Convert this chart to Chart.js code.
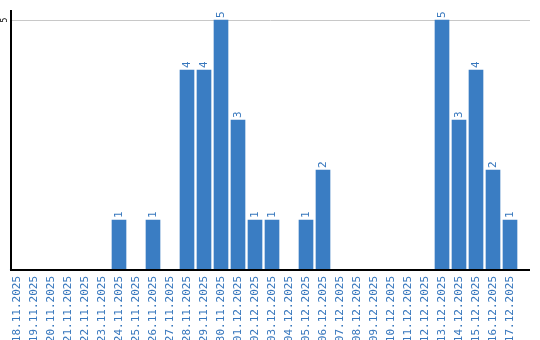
<!DOCTYPE html>
<html><head><meta charset="utf-8">
<script src="https://cdn.jsdelivr.net/npm/chart.js@4"></script>
<style>html,body{margin:0;padding:0;background:#fff}#wrap{width:540px;height:340px}</style>
</head><body><div id="wrap"><canvas id="c" width="540" height="340"></canvas></div>
<script>
const categories = ["18.11.2025","19.11.2025","20.11.2025","21.11.2025","22.11.2025","23.11.2025","24.11.2025","25.11.2025","26.11.2025","27.11.2025","28.11.2025","29.11.2025","30.11.2025","01.12.2025","02.12.2025","03.12.2025","04.12.2025","05.12.2025","06.12.2025","07.12.2025","08.12.2025","09.12.2025","10.12.2025","11.12.2025","12.12.2025","13.12.2025","14.12.2025","15.12.2025","16.12.2025","17.12.2025"];
const values = [0,0,0,0,0,0,1,0,1,0,4,4,5,3,1,1,0,1,2,0,0,0,0,0,0,5,3,4,2,1];
const yTickLabels = [5];

const BAR = '#3a7dc3';
const TXT = '#3777bd';
const FONT = 'DejaVu Sans Mono';

const decor = {
  id: 'decor',
  afterDatasetsDraw(chart) {
    const ctx = chart.ctx, a = chart.chartArea;
    const y = chart.scales.y;
    const meta = chart.getDatasetMeta(0);
    ctx.save();
    ctx.fillStyle = TXT;
    ctx.font = '11px "' + FONT + '"';
    ctx.textAlign = 'left';
    ctx.textBaseline = 'middle';
    meta.data.forEach((bar, i) => {
      const v = values[i];
      if (!v) return;
      ctx.save();
      ctx.translate(bar.x, bar.y - 2);
      ctx.rotate(-Math.PI / 2);
      ctx.fillText(String(v), 0, 0);
      ctx.restore();
    });
    ctx.fillStyle = '#000';
    ctx.font = '8px "' + FONT + '"';
    ctx.textAlign = 'center';
    yTickLabels.forEach(t => {
      const py = y.getPixelForValue(t);
      ctx.save();
      ctx.translate(4.5, py);
      ctx.rotate(-Math.PI / 2);
      ctx.fillText(String(t), 0, 0);
      ctx.restore();
    });
    ctx.strokeStyle = '#000';
    ctx.lineWidth = 2;
    ctx.beginPath();
    ctx.moveTo(11, a.top);
    ctx.lineTo(11, a.bottom + 1);
    ctx.moveTo(10, a.bottom);
    ctx.lineTo(530, a.bottom);
    ctx.stroke();
    ctx.restore();
  },
  beforeDatasetsDraw(chart) {
    const ctx = chart.ctx, y = chart.scales.y;
    ctx.save();
    ctx.strokeStyle = '#c8c8c8';
    ctx.lineWidth = 1;
    yTickLabels.forEach(t => {
      const py = Math.round(y.getPixelForValue(t)) + 0.5;
      ctx.beginPath();
      ctx.moveTo(11, py);
      ctx.lineTo(530, py);
      ctx.stroke();
    });
    ctx.restore();
  }
};

new Chart(document.getElementById('c'), {
  type: 'bar',
  data: { labels: categories, datasets: [{ data: values, backgroundColor: BAR, barThickness: 14, borderWidth: 0 }] },
  options: {
    responsive: false,
    animation: false,
    layout: { padding: { top: 10, right: 21.5, left: 0, bottom: 0 } },
    plugins: { legend: { display: false }, tooltip: { enabled: false } },
    scales: {
      x: {
        offset: true,
        grid: { display: false, drawTicks: false },
        border: { display: false },
        ticks: { color: TXT, font: { family: FONT, size: 11 }, minRotation: 90, maxRotation: 90, autoSkip: false, padding: 6 },
        afterFit(s) { s.height = 70; }
      },
      y: {
        min: 0, max: 5.2,
        grid: { display: false, drawTicks: false },
        border: { display: false },
        ticks: { display: false, stepSize: 5 },
        afterFit(s) { s.width = 8.5; }
      }
    }
  },
  plugins: [decor]
});
</script>
</body></html>
